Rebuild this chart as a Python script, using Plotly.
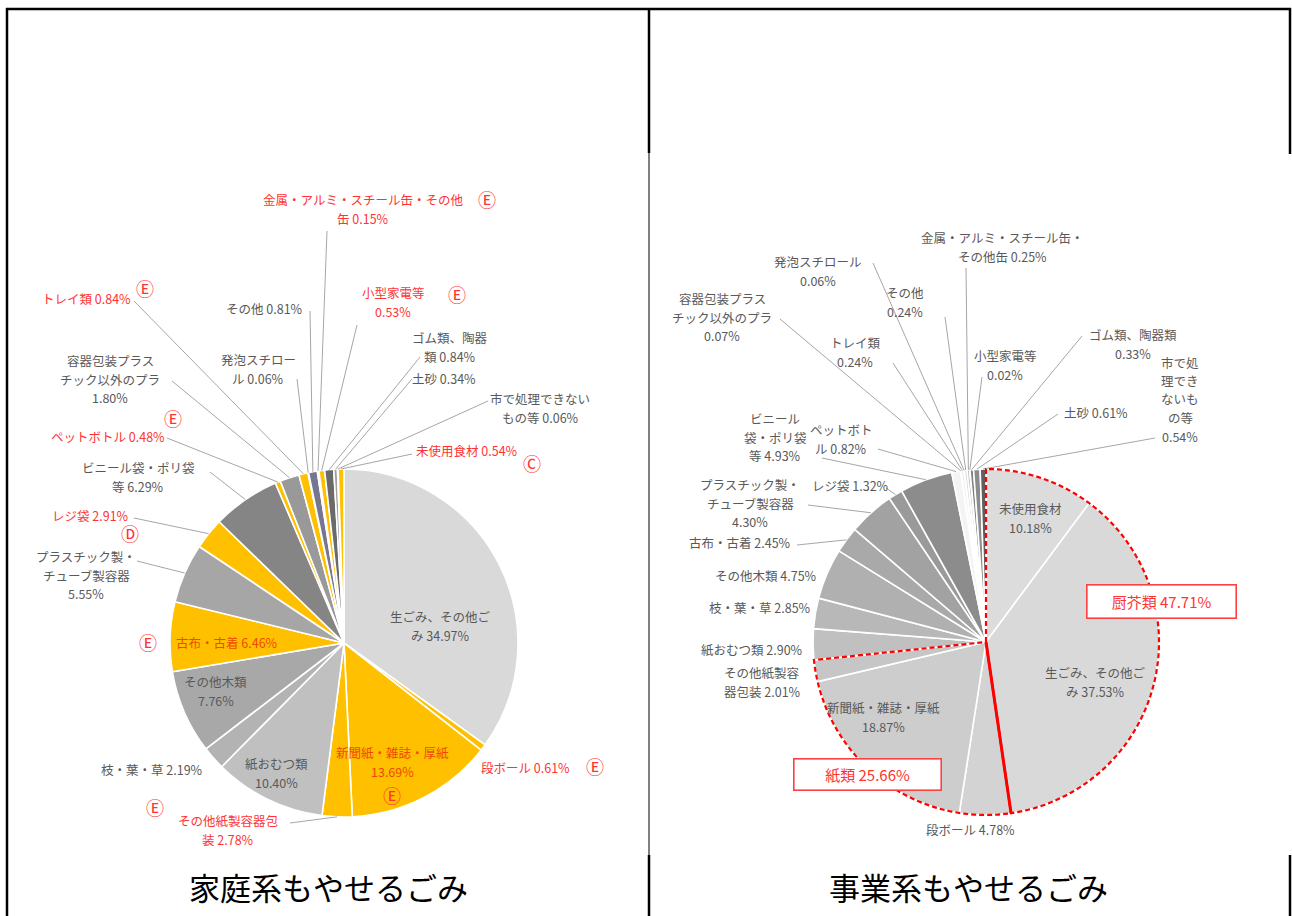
import numpy as np
import plotly.graph_objects as go

W, H = 1292, 916

# ---------------- data ----------------
home_names = ["生ごみ、その他ごみ", "段ボール", "新聞紙・雑誌・厚紙", "その他紙製容器包装", "紙おむつ類",
              "枝・葉・草", "その他木類", "古布・古着", "プラスチック製・チューブ製容器", "レジ袋",
              "ビニール袋・ポリ袋等", "ペットボトル", "容器包装プラスチック以外のプラ", "トレイ類",
              "発泡スチロール", "その他", "金属・アルミ・スチール缶・その他缶", "小型家電等",
              "ゴム類、陶器類", "土砂", "市で処理できないもの等", "未使用食材"]
home_values = [34.97, 0.61, 13.69, 2.78, 10.40, 2.19, 7.76, 6.46, 5.55, 2.91, 6.29, 0.48, 1.80,
               0.84, 0.06, 0.81, 0.15, 0.53, 0.84, 0.34, 0.06, 0.54]

biz_names = ["未使用食材", "生ごみ、その他ごみ", "段ボール", "新聞紙・雑誌・厚紙", "その他紙製容器包装",
             "紙おむつ類", "枝・葉・草", "その他木類", "古布・古着", "プラスチック製・チューブ製容器",
             "レジ袋", "ビニール袋・ポリ袋等", "ペットボトル", "容器包装プラスチック以外のプラ", "トレイ類",
             "発泡スチロール", "その他", "金属・アルミ・スチール缶・その他缶", "小型家電等",
             "ゴム類、陶器類", "土砂", "市で処理できないもの等"]
biz_values = [10.18, 37.53, 4.78, 18.87, 2.01, 2.90, 2.85, 4.75, 2.45, 4.30, 1.32, 4.93, 0.82,
              0.07, 0.24, 0.06, 0.24, 0.25, 0.02, 0.33, 0.61, 0.54]

group_kitchen = ["未使用食材", "生ごみ、その他ごみ"]          # 厨芥類
group_paper = ["段ボール", "新聞紙・雑誌・厚紙", "その他紙製容器包装"]  # 紙類

chart_titles = ["家庭系もやせるごみ", "事業系もやせるごみ"]

# ---------------- styles ----------------
Y = "#ffc000"
home_colors = ["#d9d9d9", Y, Y, Y, "#c0c0c0", "#b3b3b3", "#a8a8a8", Y, "#a6a6a6", Y,
               "#858585", Y, "#999999", Y, "#b0b0b0", "#767690", Y, Y, "#6a6a6a", "#a0a0a0",
               "#808080", Y]
biz_colors = ["#dcdcdc", "#d9d9d9", "#d3d3d3", "#cdcdcd", "#c6c6c6", "#c0c0c0", "#b8b8b8",
              "#b0b0b0", "#a9a9a9", "#a2a2a2", "#9a9a9a", "#8c8c8c", "#f4f4f4", "#f4f4f4",
              "#e6e6e6", "#f4f4f4", "#d0d0d0", "#bfbfbf", "#a0a0a0", "#7f7f7f", "#8c8c8c",
              "#5f5f5f"]

GRAY = "#595959"
RED = "#ff3333"
ORANGE = "#f04a00"
LEAD = "#a6a6a6"
FONT = "Noto Sans CJK JP"
FS = 12.5
LINE_GAP = 18.5
MARKS = ("Ⓔ", "Ⓓ", "Ⓒ")

L_CX, L_CY, L_R = 344, 643, 174
R_CX, R_CY, R_R = 986, 642, 173


def px(x):
    return x / W


def py(y):
    return 1 - y / H


def domain(cx, cy, r):
    return dict(x=[px(cx - r), px(cx + r)], y=[py(cy + r), py(cy - r)])


def mid_angle(values, i):
    return (sum(values[:i]) + values[i] / 2) / sum(values) * 360.0


def edge(cx, cy, r, ang):
    a = np.radians(ang)
    return cx + r * np.sin(a), cy - r * np.cos(a)


fig = go.Figure()
fig.add_trace(go.Pie(labels=home_names, values=home_values, sort=False, direction="clockwise",
                     rotation=0, textinfo="none", hoverinfo="label+value",
                     marker=dict(colors=home_colors, line=dict(color="white", width=1.6)),
                     domain=domain(L_CX, L_CY, L_R), showlegend=False))
fig.add_trace(go.Pie(labels=biz_names, values=biz_values, sort=False, direction="clockwise",
                     rotation=0, textinfo="none", hoverinfo="label+value",
                     marker=dict(colors=biz_colors, line=dict(color="white", width=1.6)),
                     domain=domain(R_CX, R_CY, R_R), showlegend=False))

shapes = []
annotations = []


def add_line(x0, y0, x1, y1, color="black", width=2.5, dash=None):
    shapes.append(dict(type="line", xref="paper", yref="paper", x0=px(x0), y0=py(y0),
                       x1=px(x1), y1=py(y1), line=dict(color=color, width=width, dash=dash),
                       layer="above"))


# table frame
add_line(6, 9, 1291, 9)
add_line(7, 8, 7, 916)
add_line(649, 8, 649, 153)
add_line(649, 153, 649, 855, width=1)
add_line(649, 855, 649, 916)
add_line(1290, 8, 1290, 154)
add_line(1290, 855, 1290, 916)


def text(x, y, s, color=GRAY, size=FS):
    lines = s.split("<br>")
    n = len(lines)
    for k, ln in enumerate(lines):
        yy = y + (k - (n - 1) / 2) * LINE_GAP
        c = RED if ln in MARKS else color
        sz = 18 if ln in MARKS else size
        annotations.append(dict(xref="paper", yref="paper", x=px(x), y=py(yy), text=ln,
                                showarrow=False, xanchor="center", yanchor="middle",
                                font=dict(family=FONT, size=sz, color=c)))


def place_labels(specs, names, values, cx, cy, r):
    for name, s, x, y, color, anchor in specs:
        i = names.index(name)
        text(x, y, s, color)
        if anchor is not None:
            ex, ey = edge(cx, cy, r, mid_angle(values, i))
            add_line(anchor[0], anchor[1], ex, ey, color=LEAD, width=1)


home_label_specs = [
    ("金属・アルミ・スチール缶・その他缶", "金属・アルミ・スチール缶・その他<br>缶 0.15%", 363, 209, RED, (327, 231)),
    ("その他", "その他 0.81%", 264, 308, GRAY, (310, 311)),
    ("発泡スチロール", "発泡スチロー<br>ル 0.06%", 258, 369, GRAY, (297, 379)),
    ("小型家電等", "小型家電等<br>0.53%", 393, 302, RED, (357, 325)),
    ("ゴム類、陶器類", "ゴム類、陶器<br>類 0.84%", 450, 347, GRAY, (420, 357)),
    ("土砂", "土砂 0.34%", 444, 378, GRAY, (412, 379)),
    ("市で処理できないもの等", "市で処理できない<br>もの等 0.06%", 540, 408, GRAY, (488, 401)),
    ("未使用食材", "未使用食材 0.54%", 467, 450, RED, (412, 454)),
    ("トレイ類", "トレイ類 0.84%", 86, 298, RED, (134, 301)),
    ("容器包装プラスチック以外のプラ", "容器包装プラス<br>チック以外のプラ<br>1.80%", 110, 379, GRAY, (172, 381)),
    ("ペットボトル", "ペットボトル 0.48%", 108, 436, RED, (167, 438)),
    ("ビニール袋・ポリ袋等", "ビニール袋・ポリ袋<br>等 6.29%", 138, 477, GRAY, (210, 472)),
    ("レジ袋", "レジ袋 2.91%", 90, 515, RED, (134, 518)),
    ("プラスチック製・チューブ製容器", "プラスチック製・<br>チューブ製容器<br>5.55%", 86, 575, GRAY, (137, 561)),
    ("古布・古着", "古布・古着 6.46%", 227, 642, ORANGE, None),
    ("その他木類", "その他木類<br>7.76%", 216, 691, GRAY, None),
    ("枝・葉・草", "枝・葉・草 2.19%", 152, 769, GRAY, None),
    ("紙おむつ類", "紙おむつ類<br>10.40%", 276, 773, GRAY, None),
    ("その他紙製容器包装", "その他紙製容器包<br>装 2.78%", 228, 830, RED, (290, 823)),
    ("新聞紙・雑誌・厚紙", "新聞紙・雑誌・厚紙<br>13.69%", 392, 762, ORANGE, None),
    ("段ボール", "段ボール 0.61%", 525, 767, RED, None),
    ("生ごみ、その他ごみ", "生ごみ、その他ご<br>み 34.97%", 440, 626, GRAY, None),
]
home_marks = [("Ⓔ", 487, 199), ("Ⓔ", 457, 294), ("Ⓒ", 532, 463), ("Ⓔ", 145, 288),
              ("Ⓔ", 173, 418), ("Ⓓ", 130, 533), ("Ⓔ", 148, 642), ("Ⓔ", 155, 807),
              ("Ⓔ", 595, 766), ("Ⓔ", 392, 795)]

biz_label_specs = [
    ("金属・アルミ・スチール缶・その他缶", "金属・アルミ・スチール缶・<br>その他缶 0.25%", 1002, 247, GRAY, (966, 268)),
    ("発泡スチロール", "発泡スチロール<br>0.06%", 818, 271, GRAY, (873, 263)),
    ("その他", "その他<br>0.24%", 905, 302, GRAY, (945, 317)),
    ("容器包装プラスチック以外のプラ", "容器包装プラス<br>チック以外のプラ<br>0.07%", 722, 317, GRAY, (780, 319)),
    ("トレイ類", "トレイ類<br>0.24%", 855, 352, GRAY, (893, 363)),
    ("小型家電等", "小型家電等<br>0.02%", 1005, 365, GRAY, (982, 377)),
    ("ゴム類、陶器類", "ゴム類、陶器類<br>0.33%", 1133, 344, GRAY, (1082, 336)),
    ("市で処理できないもの等", "市で処<br>理でき<br>ないも<br>の等<br>0.54%", 1180, 399, GRAY, (1155, 438)),
    ("土砂", "土砂 0.61%", 1096, 412, GRAY, (1058, 414)),
    ("ビニール袋・ポリ袋等", "ビニール<br>袋・ポリ袋<br>等 4.93%", 775, 437, GRAY, (822, 458)),
    ("ペットボトル", "ペットボト<br>ル 0.82%", 841, 439, GRAY, (878, 449)),
    ("プラスチック製・チューブ製容器", "プラスチック製・<br>チューブ製容器<br>4.30%", 750, 503, GRAY, (808, 505)),
    ("レジ袋", "レジ袋 1.32%", 850, 486, GRAY, (886, 488)),
    ("古布・古着", "古布・古着 2.45%", 740, 542, GRAY, (797, 545)),
    ("その他木類", "その他木類 4.75%", 766, 575, GRAY, None),
    ("枝・葉・草", "枝・葉・草 2.85%", 760, 607, GRAY, None),
    ("紙おむつ類", "紙おむつ類 2.90%", 752, 649, GRAY, None),
    ("その他紙製容器包装", "その他紙製容<br>器包装 2.01%", 762, 682, GRAY, None),
    ("新聞紙・雑誌・厚紙", "新聞紙・雑誌・厚紙<br>18.87%", 883, 717, GRAY, None),
    ("段ボール", "段ボール 4.78%", 970, 829, GRAY, None),
    ("未使用食材", "未使用食材<br>10.18%", 1030, 518, GRAY, None),
    ("生ごみ、その他ごみ", "生ごみ、その他ご<br>み 37.53%", 1095, 682, GRAY, None),
]

place_labels(home_label_specs, home_names, home_values, L_CX, L_CY, L_R)
place_labels(biz_label_specs, biz_names, biz_values, R_CX, R_CY, R_R)
for s, x, y in home_marks:
    text(x, y, s, RED)


# group outlines on the business pie (computed from the data)
def group_span(names, values, group):
    idx = [names.index(g) for g in group]
    a0 = sum(values[:min(idx)]) / sum(values) * 360
    a1 = sum(values[:max(idx) + 1]) / sum(values) * 360
    return a0, a1, sum(values[i] for i in idx)


def wedge_path(cx, cy, r, a0, a1):
    pts = [(cx, cy)]
    for a in np.linspace(a0, a1, 90):
        pts.append(edge(cx, cy, r, a))
    pts.append((cx, cy))
    return "M " + " L ".join(f"{px(x):.5f},{py(y):.5f}" for x, y in pts)


k0, k1, k_total = group_span(biz_names, biz_values, group_kitchen)
p0, p1, p_total = group_span(biz_names, biz_values, group_paper)
for a0, a1 in [(k0, k1), (p0, p1)]:
    shapes.append(dict(type="path", xref="paper", yref="paper",
                       path=wedge_path(R_CX, R_CY, R_R, a0, a1),
                       line=dict(color="#ff0000", width=2.2, dash="5px,3px"), layer="above"))
ex, ey = edge(R_CX, R_CY, R_R, k1)
add_line(R_CX, R_CY, ex, ey, color="#ff0000", width=3)


def boxed(x, y, s, w, h):
    annotations.append(dict(xref="paper", yref="paper", x=px(x), y=py(y), text=s,
                            showarrow=False, xanchor="center", yanchor="middle",
                            width=w, height=h, bgcolor="white", bordercolor="#ff4040",
                            borderwidth=1.6, borderpad=0,
                            font=dict(family=FONT, size=15, color="#ff3333")))


boxed(1161, 601, f"厨芥類 {k_total:.2f}%", 148, 32)
boxed(867, 774, f"紙類 {p_total:.2f}%", 146, 30)

# titles
annotations.append(dict(xref="paper", yref="paper", x=px(328), y=py(886), text=chart_titles[0],
                        showarrow=False, xanchor="center", yanchor="middle",
                        font=dict(family=FONT, size=31, color="black")))
annotations.append(dict(xref="paper", yref="paper", x=px(968), y=py(886), text=chart_titles[1],
                        showarrow=False, xanchor="center", yanchor="middle",
                        font=dict(family=FONT, size=31, color="black")))

fig.update_layout(width=W, height=H, margin=dict(l=0, r=0, t=0, b=0),
                  paper_bgcolor="white", plot_bgcolor="white",
                  shapes=shapes, annotations=annotations, showlegend=False)

fig.write_html("out.html", config={"displayModeBar": False},
               post_script="document.body.style.margin='0';document.body.style.overflow='hidden';")
